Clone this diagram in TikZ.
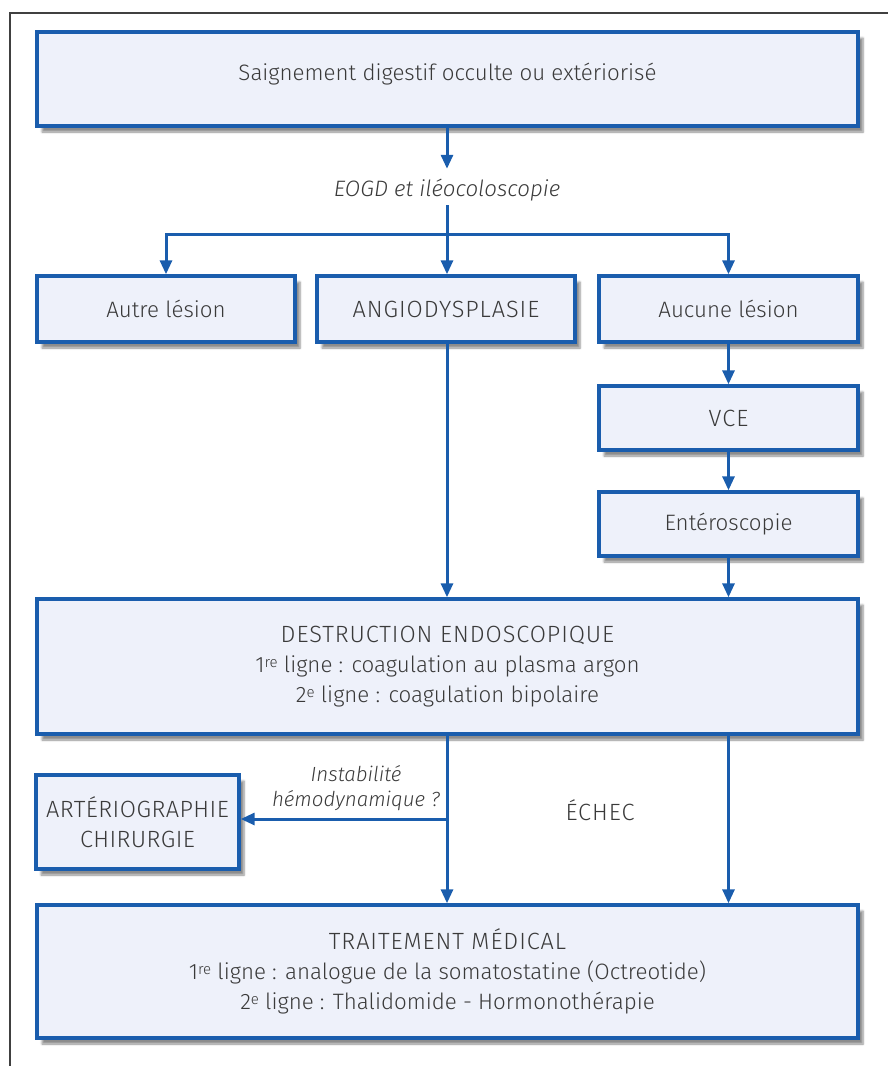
\documentclass[tikz,border=0pt]{standalone}
\usepackage{fontspec}
\setmainfont{Fira Sans}[UprightFont={* Light},ItalicFont={* Light Italic}]
\usetikzlibrary{arrows.meta,shadows.blur,calc}
\definecolor{boxblue}{HTML}{1A5DAD}
\definecolor{boxfill}{HTML}{EEF1FA}
\definecolor{txt}{HTML}{3A3A3A}
\newcommand{\sups}[1]{\raisebox{0.45ex}{\fontsize{15}{15}\selectfont #1}}
\newcommand{\capsw}[1]{{\fontsize{23.5}{30}\selectfont\addfontfeatures{LetterSpace=4}#1}}
\newcommand{\capsn}[1]{{\fontsize{23.5}{30}\selectfont\addfontfeatures{LetterSpace=2}#1}}
\begin{document}
\begin{tikzpicture}[x=1pt,y=-1pt,
  box/.style={draw=boxblue,line width=3.4pt,fill=boxfill,text=txt,align=center,
    inner sep=0pt,font=\fontsize{22.3}{30}\selectfont,
    blur shadow={shadow xshift=5pt,shadow yshift=-6pt,shadow blur steps=6,shadow opacity=45}},
  conn/.style={draw=boxblue,line width=3pt,-{Triangle[length=14pt,width=12pt]}},
  plain/.style={draw=boxblue,line width=3pt},
  lab/.style={text=txt,font=\itshape\fontsize{20.5}{25}\selectfont,inner sep=0pt}]
\useasboundingbox (0,0) rectangle (888,1066);
\draw[line width=1.4pt,color=black!75] (10,1066) -- (10,13) -- (888,13);
\node[box,minimum width=821pt,minimum height=94pt] (top) at (447.5,79) {\raisebox{5pt}[\height][\depth]{Saignement digestif occulte ou extériorisé}};
\node[lab,font=\itshape\fontsize{22.3}{25}\selectfont] (eogd) at (447,190) {EOGD et iléocoloscopie};
\node[box,minimum width=258pt,minimum height=66pt] (autre) at (166,309) {Autre lésion};
\node[box,minimum width=258pt,minimum height=66pt] (angio) at (446,309) {\capsw{ANGIODYSPLASIE}};
\node[box,minimum width=259pt,minimum height=66pt] (aucune) at (728.5,309) {Aucune lésion};
\node[box,minimum width=259pt,minimum height=64pt] (vce) at (728.5,418) {\capsw{VCE}};
\node[box,minimum width=259pt,minimum height=64pt] (entero) at (728.5,524) {Entéroscopie};
\node[box,minimum width=821pt,minimum height=135pt] (destr) at (447.5,666.5) {\capsw{DESTRUCTION ENDOSCOPIQUE}\\1\sups{re} ligne : coagulation au plasma argon\\2\sups{e} ligne : coagulation bipolaire};
\node[box,minimum width=203pt,minimum height=94pt,font=\fontsize{22.3}{30}\selectfont] (arterio) at (137.5,822) {\capsn{ARTÉRIOGRAPHIE}\\\capsn{CHIRURGIE}};
\node[box,minimum width=821pt,minimum height=133pt] (trait) at (447.5,971.5) {\capsw{TRAITEMENT MÉDICAL}\\1\sups{re} ligne : analogue de la somatostatine (Octreotide)\\2\sups{e} ligne : Thalidomide - Hormonothérapie};
\node[lab,align=center] (instab) at (356,788) {Instabilité\\hémodynamique ?};
\node[text=txt,inner sep=0pt] (echec) at (600,810) {\capsw{ÉCHEC}};
\coordinate (e1) at (447,205);
\coordinate (j1) at (447,234);
\coordinate (j2) at (447,819);
\draw[conn] (top.south -| e1) -- ($(eogd.north -| e1)+(0,-10)$);
\draw[plain] (e1) -- (j1);
\draw[conn] (j1) -- (j1 |- angio.north);
\draw[conn] (j1) -| (autre.north);
\draw[conn] (j1) -| (aucune.north);
\draw[conn] (aucune.south) -- (vce.north);
\draw[conn] (vce.south) -- (entero.north);
\draw[conn] (angio.south -| j1) -- (j1 |- destr.north);
\draw[conn] (entero.south) -- (entero.south |- destr.north);
\draw[conn] (destr.south -| j1) -- (j1 |- trait.north);
\draw[conn] (destr.south -| entero.south) -- (entero.south |- trait.north);
\draw[conn] (j2) -- (j2 -| arterio.east);
\end{tikzpicture}
\end{document}
